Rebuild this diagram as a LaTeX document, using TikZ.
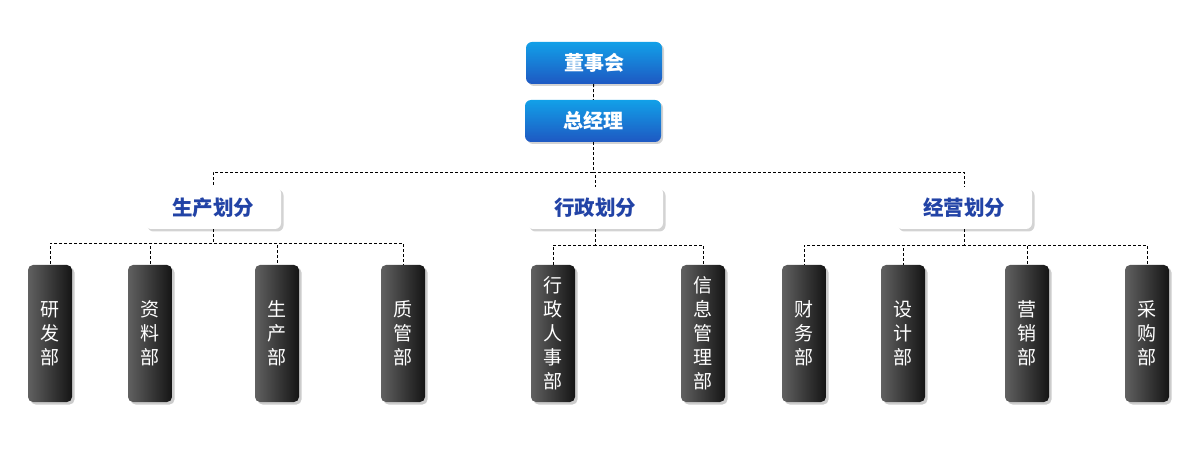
\documentclass[tikz,border=0pt]{standalone}
\usepackage{fontspec}
\usepackage{xcolor}
\usepackage{tikz}
\usetikzlibrary{positioning,shadows}
\newfontfamily\cjk{Noto Sans CJK SC}
\definecolor{topblue}{HTML}{12A0E8}
\definecolor{botblue}{HTML}{1E58C2}
\definecolor{divblue}{HTML}{2243A6}

\begin{document}
\begin{tikzpicture}[x=1pt, y=-1pt,
    head/.style={draw=none, rounded corners=6pt, top color=topblue, bottom color=botblue,
                 minimum width=136pt, minimum height=42pt, text=white,
                 font=\cjk\bfseries\fontsize{20}{22}\selectfont,
                 drop shadow={shadow xshift=2pt, shadow yshift=-2pt, opacity=0.35}},
    div/.style={draw=none, rounded corners=6pt, fill=white,
                minimum width=136pt, minimum height=42pt, text=divblue,
                font=\cjk\bfseries\fontsize{20.5}{22}\selectfont,
                drop shadow={shadow xshift=2.5pt, shadow yshift=-2.5pt, opacity=0.35}},
    dept/.style={draw=none, rounded corners=5pt, left color=black!62, right color=black!92,
                 minimum width=44pt, minimum height=137pt, text=white, align=center,
                 font=\cjk\fontsize{19}{24}\selectfont,
                 drop shadow={shadow xshift=2.5pt, shadow yshift=-2.5pt, opacity=0.4}},
    link/.style={densely dashed, line width=0.8pt}]
  \useasboundingbox (0,0) rectangle (1200,454);
  % top
  \node[head] (board) at (594,63) {董事会};
  \node[head] (gm) at (593,121) {总经理};
  % divisions
  \node[div] (prod) at (213,208) {生产划分};
  \node[div] (admin) at (595,208) {行政划分};
  \node[div] (biz) at (964,208) {经营划分};
  % departments
  \node[dept] (rd) at (50,333.5) {研\\发\\部};
  \node[dept] (data) at (150,333.5) {资\\料\\部};
  \node[dept] (make) at (277,333.5) {生\\产\\部};
  \node[dept] (qc) at (403,333.5) {质\\管\\部};
  \node[dept] (hr) at (553,333.5) {行\\政\\人\\事\\部};
  \node[dept] (it) at (703,333.5) {信\\息\\管\\理\\部};
  \node[dept] (fin) at (804,333.5) {财\\务\\部};
  \node[dept] (des) at (903,333.5) {设\\计\\部};
  \node[dept] (mkt) at (1027,333.5) {营\\销\\部};
  \node[dept] (buy) at (1147,333.5) {采\\购\\部};
  % links
  \draw[link] (board) -- (gm);
  \foreach \d in {prod,admin,biz}
    \draw[link] (gm.south) -- ++(0,30) -| (\d.north);
  \foreach \d in {rd,data,make,qc}
    \draw[link] (prod.south) -- ++(0,14) -| (\d.north);
  \foreach \d in {hr,it}
    \draw[link] (admin.south) -- ++(0,16) -| (\d.north);
  \foreach \d in {fin,des,mkt,buy}
    \draw[link] (biz.south) -- ++(0,16) -| (\d.north);
\end{tikzpicture}
\end{document}
